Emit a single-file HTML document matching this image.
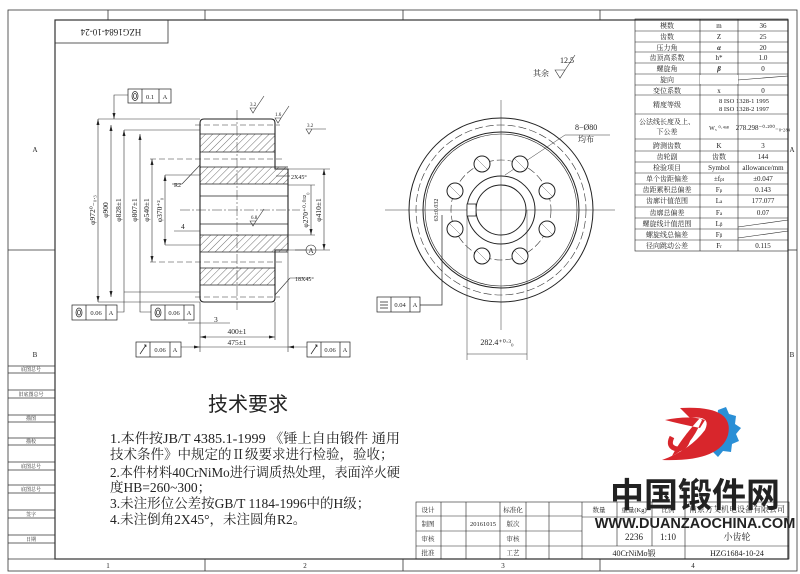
<!DOCTYPE html>
<html><head><meta charset="utf-8"><style>
html,body{margin:0;padding:0;background:#fff;}
svg{display:block;}
text{font-family:"Liberation Serif","Noto Serif CJK SC","Noto Sans CJK SC",serif;fill:#222;}
.s{font-family:"Liberation Sans","Noto Sans CJK SC",sans-serif;}
</style></head><body>
<svg width="800" height="574" viewBox="0 0 800 574" xmlns="http://www.w3.org/2000/svg">
<defs>
<pattern id="h" width="5" height="5" patternUnits="userSpaceOnUse" patternTransform="rotate(45)">
<line x1="0" y1="0" x2="0" y2="5" stroke="#333" stroke-width="0.7"/></pattern>
</defs>
<g fill="none" stroke="#333" stroke-width="0.8">
<rect x="8" y="10" width="789" height="561"/>
<rect x="55" y="20" width="733" height="539" stroke-width="1.2"/>
<line x1="8" y1="559" x2="55" y2="559"/>
<line x1="205" y1="10" x2="205" y2="20"/><line x1="108" y1="10" x2="108" y2="20"/>
<line x1="403" y1="10" x2="403" y2="20"/><line x1="600" y1="10" x2="600" y2="20"/>
<line x1="205" y1="559" x2="205" y2="571"/><line x1="403" y1="559" x2="403" y2="571"/><line x1="600" y1="559" x2="600" y2="571"/>
<line x1="8" y1="250" x2="55" y2="250"/><line x1="788" y1="250" x2="797" y2="250"/>
<rect x="55" y="20" width="113" height="23"/>
<line x1="8" y1="366" x2="55" y2="366"/><line x1="8" y1="373" x2="55" y2="373"/>
<line x1="8" y1="390" x2="55" y2="390"/><line x1="8" y1="398" x2="55" y2="398"/>
<line x1="8" y1="415" x2="55" y2="415"/><line x1="8" y1="422" x2="55" y2="422"/>
<line x1="8" y1="438" x2="55" y2="438"/><line x1="8" y1="445" x2="55" y2="445"/>
<line x1="8" y1="462" x2="55" y2="462"/><line x1="8" y1="470" x2="55" y2="470"/>
<line x1="8" y1="485" x2="55" y2="485"/><line x1="8" y1="493" x2="55" y2="493"/>
<line x1="8" y1="510" x2="55" y2="510"/><line x1="8" y1="518" x2="55" y2="518"/>
<line x1="8" y1="535" x2="55" y2="535"/><line x1="8" y1="543" x2="55" y2="543"/>
</g>
<g font-size="5" text-anchor="middle">
<text x="31" y="371">底图总号</text><text x="31" y="396">旧底图总号</text><text x="31" y="420">描图</text>
<text x="31" y="443">描校</text><text x="31" y="468">底图总号</text><text x="31" y="491">底图总号</text>
<text x="31" y="516">签字</text><text x="31" y="541">日期</text>
</g>
<g font-size="7" text-anchor="middle">
<text x="35" y="152">A</text><text x="35" y="357">B</text><text x="792" y="152">A</text><text x="792" y="357">B</text>
<text x="108" y="568">1</text><text x="305" y="568">2</text><text x="503" y="568">3</text><text x="693" y="568">4</text>
</g>
<text x="111" y="35" font-size="9" text-anchor="middle" transform="rotate(180 111 32)">HZG1684-10-24</text>

<g stroke="#222" stroke-width="1.1" fill="none">
<rect x="200" y="134" width="75" height="18" fill="url(#h)" stroke="none"/>
<rect x="200" y="167" width="88" height="17" fill="url(#h)" stroke="none"/>
<rect x="200" y="235" width="88" height="17" fill="url(#h)" stroke="none"/>
<rect x="200" y="268" width="75" height="17" fill="url(#h)" stroke="none"/>
<path d="M204 119 H271 Q275 119 275 123 V169 H288 V250 H275 V298 Q275 302 271 302 H204 Q200 302 200 298 V123 Q200 119 204 119 Z"/>
<g stroke-width="0.8">
<line x1="200" y1="134" x2="275" y2="134"/><line x1="200" y1="152" x2="275" y2="152"/>
<line x1="200" y1="167" x2="288" y2="167"/><line x1="200" y1="184" x2="288" y2="184"/>
<line x1="200" y1="235" x2="288" y2="235"/><line x1="200" y1="252" x2="288" y2="252"/>
<line x1="200" y1="268" x2="275" y2="268"/><line x1="200" y1="285" x2="275" y2="285"/>
<line x1="200" y1="196" x2="288" y2="196"/><line x1="200" y1="224" x2="288" y2="224"/>
</g>
</g>
<g stroke="#333" stroke-width="0.6" fill="none" stroke-dasharray="6 3">
<line x1="195" y1="125" x2="280" y2="125"/><line x1="195" y1="297" x2="280" y2="297"/>
<line x1="150" y1="159" x2="285" y2="159"/><line x1="150" y1="262" x2="285" y2="262"/>
</g>
<g stroke="#333" stroke-width="0.5" fill="none" stroke-dasharray="10 2 2 2">
<line x1="180" y1="210" x2="300" y2="210"/><line x1="237" y1="110" x2="237" y2="310"/>
</g>
<g stroke="#333" stroke-width="0.6" fill="none">
<line x1="98" y1="119" x2="200" y2="119"/><line x1="98" y1="302" x2="200" y2="302"/>
<line x1="98" y1="119" x2="98" y2="302"/>
<line x1="111" y1="125" x2="111" y2="297"/>
<line x1="124" y1="130" x2="124" y2="292"/><line x1="124" y1="130" x2="200" y2="130"/><line x1="124" y1="292" x2="200" y2="292"/>
<line x1="140" y1="134" x2="140" y2="287"/>
<line x1="152" y1="159" x2="152" y2="262"/>
<line x1="165" y1="175" x2="165" y2="245"/><line x1="165" y1="175" x2="200" y2="175"/><line x1="165" y1="245" x2="200" y2="245"/>
<line x1="288" y1="185" x2="315" y2="185"/><line x1="288" y1="235" x2="315" y2="235"/>
<line x1="311" y1="185" x2="311" y2="235"/>
<line x1="288" y1="169" x2="330" y2="169"/><line x1="288" y1="250" x2="330" y2="250"/>
<line x1="324" y1="169" x2="324" y2="250"/>
<line x1="200" y1="302" x2="200" y2="352"/><line x1="275" y1="302" x2="275" y2="340"/><line x1="288" y1="250" x2="288" y2="352"/>
<line x1="200" y1="337" x2="275" y2="337"/><line x1="181" y1="347" x2="307" y2="347"/>
<line x1="188" y1="323" x2="230" y2="323"/>
<line x1="174" y1="231" x2="200" y2="231"/>
<line x1="172" y1="184" x2="182" y2="184"/><line x1="182" y1="184" x2="200" y2="165"/>
<line x1="295" y1="250" x2="306" y2="250"/>
<line x1="275" y1="295" x2="290" y2="278"/><line x1="290" y1="278" x2="310" y2="278"/>
<line x1="276" y1="176" x2="290" y2="176"/>
<polyline points="114,98 114,119"/><polyline points="128,95 114,95 114,98"/>
<polyline points="117,312 124,312 124,292"/><polyline points="151,312 140,312 140,287"/>
</g>
<g fill="#222">
<polygon points="98,119 96.5,125 99.5,125"/><polygon points="98,302 96.5,296 99.5,296"/>
<polygon points="111,125 109.5,131 112.5,131"/><polygon points="111,297 109.5,291 112.5,291"/>
<polygon points="124,130 122.5,136 125.5,136"/><polygon points="140,134 138.5,140 141.5,140"/>
<polygon points="152,159 150.5,165 153.5,165"/><polygon points="152,262 150.5,256 153.5,256"/>
<polygon points="165,175 163.5,181 166.5,181"/><polygon points="165,245 163.5,239 166.5,239"/>
<polygon points="311,235 309.5,229 312.5,229"/><polygon points="324,169 322.5,175 325.5,175"/><polygon points="324,250 322.5,244 325.5,244"/>
<polygon points="200,337 206,335.5 206,338.5"/><polygon points="275,337 269,335.5 269,338.5"/>
<polygon points="200,347 194,345.5 194,348.5"/><polygon points="288,347 294,345.5 294,348.5"/>
<polygon points="114,119 112.5,113 115.5,113"/>
</g>
<g font-size="7.5">
<text transform="translate(95 210) rotate(-90)" text-anchor="middle">φ972⁰₋₀.₃</text>
<text transform="translate(108 210) rotate(-90)" text-anchor="middle">φ900</text>
<text transform="translate(121 210) rotate(-90)" text-anchor="middle">φ828±1</text>
<text transform="translate(137 210) rotate(-90)" text-anchor="middle">φ807±1</text>
<text transform="translate(149 210) rotate(-90)" text-anchor="middle">φ540±1</text>
<text transform="translate(162 210) rotate(-90)" text-anchor="middle">φ370⁺²₀</text>
<text transform="translate(308 210) rotate(-90)" text-anchor="middle">φ270⁺⁰·⁰³²₀</text>
<text transform="translate(321 210) rotate(-90)" text-anchor="middle">φ410±1</text>
<text x="237" y="334" text-anchor="middle">400±1</text>
<text x="237" y="345" text-anchor="middle">475±1</text>
<text x="214" y="322">3</text><text x="181" y="229">4</text>
<text x="174" y="187" font-size="6">R2</text>
<text x="291" y="179" font-size="6">2X45°</text>
<text x="295" y="281" font-size="6">18X45°</text>
</g>
<circle cx="311" cy="250" r="5" fill="none" stroke="#333" stroke-width="0.6"/>
<text x="311" y="253" font-size="7" text-anchor="middle">A</text>
<g stroke="#333" stroke-width="0.6" fill="none">
<path d="M250 108 l3 5 l3 -5 z M256 108 l8 -12"/><path d="M275 118 l3 5 l3 -5 z M281 118 l8 -12"/>
<path d="M306 129 l3 5 l3 -5 z M306 129 h20"/><path d="M250 221 l3 5 l3 -5 z M256 221 l8 -12"/>
<path d="M555 70 l5 8 l5 -8 z M565 70 l10 -15"/>
</g>
<g font-size="5"><text x="250" y="106">3.2</text><text x="275" y="116">1.6</text><text x="307" y="127">3.2</text><text x="251" y="219">6.8</text></g>
<text x="560" y="63" font-size="8">12.5</text><text x="533" y="76" font-size="8">其余</text>
<g stroke="#222" stroke-width="0.7" fill="none">
<rect x="128" y="89" width="43" height="14"/><line x1="142" y1="89" x2="142" y2="103"/><line x1="159" y1="89" x2="159" y2="103"/>
<rect x="72" y="305" width="45" height="15"/><line x1="86" y1="305" x2="86" y2="320"/><line x1="106" y1="305" x2="106" y2="320"/>
<rect x="151" y="305" width="43" height="15"/><line x1="165" y1="305" x2="165" y2="320"/><line x1="184" y1="305" x2="184" y2="320"/>
<rect x="136" y="342" width="45" height="15"/><line x1="150" y1="342" x2="150" y2="357"/><line x1="170" y1="342" x2="170" y2="357"/>
<rect x="307" y="342" width="43" height="15"/><line x1="321" y1="342" x2="321" y2="357"/><line x1="340" y1="342" x2="340" y2="357"/>
<rect x="377" y="297" width="43" height="15"/><line x1="391" y1="297" x2="391" y2="312"/><line x1="410" y1="297" x2="410" y2="312"/>
<ellipse cx="135" cy="96" rx="3" ry="4.5"/><ellipse cx="135" cy="96" rx="1.5" ry="2.5"/>
<ellipse cx="79" cy="312.5" rx="3" ry="4.5"/><ellipse cx="79" cy="312.5" rx="1.5" ry="2.5"/>
<ellipse cx="158" cy="312.5" rx="3" ry="4.5"/><ellipse cx="158" cy="312.5" rx="1.5" ry="2.5"/>
<path d="M140 354 l6 -9 M144 345 l2 0 0 2"/><path d="M311 354 l6 -9 M315 345 l2 0 0 2"/>
<path d="M380 302 h8 M380 305 h8 M380 308 h8"/>
<polyline points="420,305 442,305 442,215"/>
</g>
<g font-size="6.5" text-anchor="middle">
<text x="150" y="99">0.1</text><text x="165" y="99">A</text>
<text x="96" y="315">0.06</text><text x="111" y="315">A</text>
<text x="174" y="315">0.06</text><text x="189" y="315">A</text>
<text x="160" y="352">0.06</text><text x="175" y="352">A</text>
<text x="330" y="352">0.06</text><text x="345" y="352">A</text>
<text x="400" y="307">0.04</text><text x="415" y="307">A</text>
</g>

<!-- front view -->
<g stroke="#222" stroke-width="1" fill="none">
<circle cx="501" cy="210" r="92"/>
<circle cx="501" cy="210" r="78"/><circle cx="501" cy="210" r="76" stroke-width="0.6"/>
<circle cx="501" cy="210" r="34"/><circle cx="501" cy="210" r="25"/>
</g>
<g stroke="#333" stroke-width="0.6" fill="none" stroke-dasharray="8 3">
<circle cx="501" cy="210" r="85"/><circle cx="501" cy="210" r="50"/>
</g>
<g stroke="#333" stroke-width="0.5" fill="none">
<line x1="385" y1="210" x2="615" y2="210"/><line x1="501" y1="100" x2="501" y2="330"/>
<line x1="467" y1="210" x2="467" y2="360"/><line x1="527" y1="210" x2="527" y2="360"/>
<line x1="467" y1="354" x2="527" y2="354"/>
<line x1="505" y1="175" x2="565" y2="135"/><line x1="565" y1="135" x2="610" y2="135"/>
</g>
<rect x="467" y="204" width="9" height="12" fill="#fff" stroke="#222" stroke-width="0.8"/>
<g stroke="#222" stroke-width="1" fill="#fff">
<circle cx="482" cy="164" r="8"/><circle cx="520" cy="164" r="8"/>
<circle cx="482" cy="256" r="8"/><circle cx="520" cy="256" r="8"/>
<circle cx="455" cy="191" r="8"/><circle cx="547" cy="191" r="8"/>
<circle cx="455" cy="229" r="8"/><circle cx="547" cy="229" r="8"/>
</g>
<g stroke="#444" stroke-width="0.4" fill="none">
<path d="M476 158l12 12M514 158l12 12M476 250l12 12M514 250l12 12M449 185l12 12M541 185l12 12M449 223l12 12M541 223l12 12"/>
</g>
<text x="497" y="345" font-size="8" text-anchor="middle">282.4⁺⁰·³₀</text>
<text x="575" y="130" font-size="8">8−Ø80</text><text x="578" y="142" font-size="8">均布</text>
<text transform="translate(438 210) rotate(-90)" font-size="6" text-anchor="middle">63±0.032</text>

<!-- parameter table -->
<g stroke="#222" stroke-width="0.6" fill="none">
<rect x="635" y="19" width="153" height="232"/>
<line x1="700" y1="19" x2="700" y2="251"/><line x1="738" y1="19" x2="738" y2="251"/>
<path d="M635 31H788M635 42H788M635 52H788M635 63H788M635 74H788M635 85H788M635 95H788M635 114H788M635 139H788M635 151H788M635 162H788M635 173H788M635 184H788M635 195H788M635 207H788M635 218H788M635 229H788M635 240H788"/>
<line x1="700" y1="83" x2="788" y2="76"/><line x1="738" y1="227" x2="788" y2="220"/><line x1="738" y1="238" x2="788" y2="231"/>
</g>
<rect x="700" y="75" width="38" height="9" fill="#fff"/>
<g font-size="7" text-anchor="middle">
<text x="667" y="28">模数</text><text x="719" y="28">m</text><text x="763" y="28">36</text>
<text x="667" y="39">齿数</text><text x="719" y="39">Z</text><text x="763" y="39">25</text>
<text x="667" y="50">压力角</text><text x="719" y="50" font-weight="bold" font-style="italic">α</text><text x="763" y="50">20</text>
<text x="667" y="60">齿顶高系数</text><text x="719" y="60">h*</text><text x="763" y="60">1.0</text>
<text x="667" y="71">螺旋角</text><text x="719" y="71" font-weight="bold" font-style="italic">β</text><text x="763" y="71">0</text>
<text x="667" y="82">旋向</text>
<text x="667" y="93">变位系数</text><text x="719" y="93">x</text><text x="763" y="93">0</text>
<text x="667" y="107">精度等级</text><text x="744" y="103" font-size="6.5">8  ISO 1328-1 1995</text><text x="744" y="111" font-size="6.5">8  ISO 1328-2 1997</text>
<text x="667" y="124">公法线长度及上、</text><text x="667" y="134">下公差</text><text x="719" y="130" font-size="6">W₅ ⁰·⁴ⁿ⁸</text><text x="763" y="130">278.298⁻⁰·²⁰⁰₋₀.₂₈₄</text>
<text x="667" y="148">跨测齿数</text><text x="719" y="148">K</text><text x="763" y="148">3</text>
<text x="667" y="159">齿轮副</text><text x="719" y="159">齿数</text><text x="763" y="159">144</text>
<text x="667" y="170">检验项目</text><text x="719" y="170">Symbol</text><text x="763" y="170">allowance/mm</text>
<text x="667" y="181">单个齿距偏差</text><text x="719" y="181">±f<tspan font-size="5">pt</tspan></text><text x="763" y="181">±0.047</text>
<text x="667" y="192">齿距累积总偏差</text><text x="719" y="192">F<tspan font-size="5">p</tspan></text><text x="763" y="192">0.143</text>
<text x="667" y="203">齿廓计值范围</text><text x="719" y="203">L<tspan font-size="5">a</tspan></text><text x="763" y="203">177.077</text>
<text x="667" y="215">齿廓总偏差</text><text x="719" y="215">F<tspan font-size="5">a</tspan></text><text x="763" y="215">0.07</text>
<text x="667" y="226">螺旋线计值范围</text><text x="719" y="226">L<tspan font-size="5">β</tspan></text>
<text x="667" y="237">螺旋线总偏差</text><text x="719" y="237">F<tspan font-size="5">β</tspan></text>
<text x="667" y="248">径向跳动公差</text><text x="719" y="248">F<tspan font-size="5">r</tspan></text><text x="763" y="248">0.115</text>
</g>

<!-- tech requirements -->
<text x="248" y="411" font-size="20" text-anchor="middle" style="font-family:'Noto Sans CJK SC',sans-serif">技术要求</text>
<g font-size="13.5">
<text x="110" y="443" textLength="290" lengthAdjust="spacingAndGlyphs">1.本件按JB/T 4385.1-1999 《锤上自由锻件 通用</text>
<text x="110" y="459">技术条件》中规定的Ⅱ级要求进行检验，验收；</text>
<text x="110" y="477" textLength="290" lengthAdjust="spacingAndGlyphs">2.本件材料40CrNiMo进行调质热处理，表面淬火硬</text>
<text x="110" y="492">度HB=260~300；</text>
<text x="110" y="508">3.未注形位公差按GB/T 1184-1996中的H级；</text>
<text x="110" y="524">4.未注倒角2X45°，未注圆角R2。</text>
</g>

<!-- title block -->
<g stroke="#222" stroke-width="0.6" fill="none">
<rect x="416" y="502" width="373" height="57"/>
<path d="M416 516H582M416 531H582M416 546H582M441 502V559M466 502V559M500 502V559M526 502V559M549 502V559M582 502V559"/>
<path d="M582 517H789M582 546H789M617 502V546M652 502V546M685 502V559"/>
</g>
<g font-size="6.5" text-anchor="middle">
<text x="428" y="512">设计</text><text x="428" y="526">制图</text><text x="428" y="541">审核</text><text x="428" y="555">批准</text>
<text x="483" y="526">20161015</text>
<text x="513" y="512">标准化</text><text x="513" y="526">版次</text><text x="513" y="541">审核</text><text x="513" y="555">工艺</text>
<text x="599" y="512">数量</text><text x="634" y="512">重量(Kg)</text><text x="668" y="512">比例</text>
<text x="634" y="540" font-size="9">2236</text><text x="668" y="540" font-size="9">1:10</text>
<text x="737" y="512" font-size="8">南京方艾机电设备有限公司</text>
<text x="737" y="540" font-size="9">小齿轮</text>
<text x="634" y="556" font-size="8">40CrNiMo锻</text><text x="737" y="556" font-size="8">HZG1684-10-24</text>
</g>

<!-- logo -->
<g>
<path d="M718 410 l8 -3 l3 7 l7 2 l-1 8 l6 4 l-5 6 l3 7 l-7 3 l-1 8 l-8 -1 l-5 6 l-5 -5 z" fill="#2a8fd6"/>
<path d="M680 408 Q735 405 728 435 Q720 462 662 460 Q690 450 705 430 Q712 415 690 418 Z" fill="#d8262c"/>
<path d="M700 418 Q680 440 672 456 Q690 448 702 420 Z M665 420 Q690 415 705 420 L700 428 Q680 424 665 420 Z" fill="#d8262c"/>
<path d="M672 437 q-5 10 5 12 q10 0 12 -15" fill="none" stroke="#d8262c" stroke-width="5"/>
</g>
<text x="695" y="507" font-size="34" font-weight="bold" text-anchor="middle" style="font-family:'Noto Sans CJK SC',sans-serif" fill="#111">中国锻件网</text>
<text x="695" y="528" font-size="14.5" font-weight="bold" text-anchor="middle" style="font-family:'Liberation Sans',sans-serif" fill="#111">WWW.DUANZAOCHINA.COM</text>
</svg>
</body></html>
